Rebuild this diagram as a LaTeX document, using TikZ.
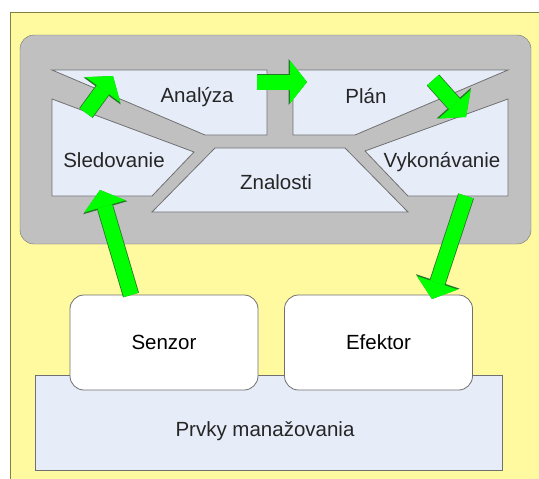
\documentclass[tikz,border=0pt]{standalone}
\usepackage{fontspec}
\setmainfont{Liberation Sans}
\usetikzlibrary{arrows.meta}

\definecolor{bgyellow}{RGB}{255,250,160}
\definecolor{bgline}{RGB}{128,128,64}
\definecolor{panelgray}{RGB}{192,192,192}
\definecolor{edgegray}{RGB}{112,112,112}
\definecolor{partblue}{RGB}{230,236,248}
\definecolor{flowgreen}{RGB}{0,255,0}
\definecolor{flowedge}{RGB}{40,120,40}

\begin{document}
\begin{tikzpicture}[x=1pt,y=-1pt,
    part/.style  = {fill=partblue, draw=edgegray, line width=0.8pt},
    box/.style   = {fill=white, draw=edgegray, line width=0.8pt, rounded corners=14pt,
                    minimum width=188pt, minimum height=95pt, font=\lbl},
    txt/.style   = {font=\lbl, text=black!85, inner sep=0pt},
    arrow/.style = {line width=15pt, draw=flowgreen,
                    -{Triangle[width=43pt,length=17pt,line width=0pt]},
                    preaction={draw=flowedge, line width=16.6pt,
                    -{Triangle[width=46pt,length=18.5pt,line width=0pt]}}}]
    \newcommand{\lbl}{\fontsize{20.5}{24}\selectfont}
    \useasboundingbox (0,0) rectangle (539,479);

    % background
    \fill[white] (0,0) rectangle (539,479);
    \fill[bgyellow] (10,12) rectangle (539,479);
    \draw[bgline, line width=1pt] (10,479) -- (10,12) -- (539,12);
    \filldraw[fill=panelgray, draw=edgegray, rounded corners=14pt] (20,35) rectangle (531,244);

    % loop parts
    \filldraw[part] (52,70) -- (267,70) -- (267,135) -- (205,135) -- cycle;
    \filldraw[part] (293,70) -- (508,70) -- (355,135) -- (293,135) -- cycle;
    \filldraw[part] (52,99) -- (194,152) -- (152,196) -- (52,196) -- cycle;
    \filldraw[part] (508,99) -- (508,196) -- (408,196) -- (365,151) -- cycle;
    \filldraw[part] (215,148) -- (345,148) -- (408,212) -- (152,212) -- cycle;

    \node[txt] (analyza)  at (197,97)  {Analýza};
    \node[txt] (plan)     at (366,96)  {Plán};
    \node[txt] (sled)     at (114,160) {Sledovanie};
    \node[txt] (vykon)    at (442,162) {Vykonávanie};
    \node[txt] (znalosti) at (276,182) {Znalosti};

    % managed elements
    \node[part, minimum width=467pt, minimum height=95pt] (prvky) at (268.5,422.5) {};
    \node[txt] (prvkytxt) at (265,431) {Prvky manažovania};
    \node[box] (senzor)  at (164,342.5)   {Senzor};
    \node[box] (efektor) at (378.5,342.5) {Efektor};

    % flow
    \coordinate (s0) at (131,295);  \coordinate (s1) at (100,190);
    \coordinate (a0) at (86,113);   \coordinate (a1) at (113,76);
    \coordinate (p0) at (257,82);   \coordinate (p1) at (307,82);
    \coordinate (v0) at (433,80);   \coordinate (v1) at (466,117);
    \coordinate (e0) at (466,196);  \coordinate (e1) at (432,299);

    \draw[arrow] (s0) -- (s1);
    \draw[arrow] (a0) -- (a1);
    \draw[arrow] (p0) -- (p1);
    \draw[arrow] (v0) -- (v1);
    \draw[arrow] (e0) -- (e1);
\end{tikzpicture}
\end{document}
